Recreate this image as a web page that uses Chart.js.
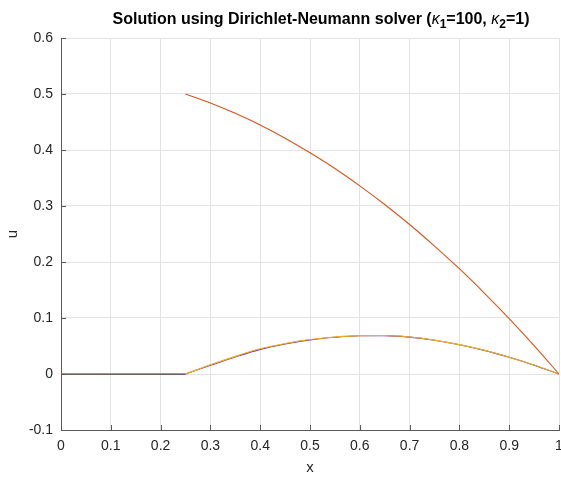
<!DOCTYPE html>
<html>
<head>
<meta charset="utf-8">
<script src="https://cdn.jsdelivr.net/npm/chart.js@4.4.1/dist/chart.umd.min.js"></script>
<style>
  body { margin: 0; background: #fff; }
  canvas { display: block; }
</style>
</head>
<body>
<canvas id="plot" width="561" height="477"></canvas>
<script>
// left sub-domain [0, 0.25]
const xLeft = [0, 0.25];
const blueLeft = [-0.0009, -0.0009];
const orangeLeft = [0.0004, 0.0004];

// right sub-domain [0.25, 1]
const xRight = [0.25, 0.30, 0.35, 0.40, 0.45, 0.50, 0.55, 0.60, 0.65, 0.70, 0.75, 0.80, 0.85, 0.90, 0.95, 1.00];
const orangeRight = [0.500, 0.484, 0.4655, 0.4446, 0.421, 0.395, 0.367, 0.336, 0.3027, 0.267, 0.2285, 0.188, 0.1446, 0.099, 0.0507, 0];
const yellowRight = [0, 0.0165, 0.0315, 0.045, 0.0545, 0.0615, 0.066, 0.0685, 0.0687, 0.066, 0.0605, 0.0525, 0.0425, 0.030, 0.016, 0];
const purpleRight = [0, 0.0155, 0.0305, 0.044, 0.0537, 0.061, 0.0656, 0.0683, 0.0685, 0.0658, 0.0602, 0.0522, 0.0422, 0.0298, 0.0158, 0];

const xTickValues = [0, 0.1, 0.2, 0.3, 0.4, 0.5, 0.6, 0.7, 0.8, 0.9, 1];
const xTickLabels = ['0', '0.1', '0.2', '0.3', '0.4', '0.5', '0.6', '0.7', '0.8', '0.9', '1'];
const yTickValues = [-0.1, 0, 0.1, 0.2, 0.3, 0.4, 0.5, 0.6];
const yTickLabels = ['-0.1', '0', '0.1', '0.2', '0.3', '0.4', '0.5', '0.6'];

const FONT = "'Liberation Sans', Arial, Helvetica, sans-serif";
const TEXT = '#262626';
const AXIS = '#5a5a5a';
const GRID = '#e3e3e3';

function pts(xs, ys) {
  return xs.map((x, i) => ({ x: x, y: ys[i] }));
}

function line(data, color, order, width) {
  return {
    data: data,
    borderColor: color,
    borderWidth: width || 1.1,
    pointRadius: 0,
    fill: false,
    cubicInterpolationMode: 'monotone',
    order: order
  };
}

// MATLAB-like title with subscripts, plus inward tick marks
const extras = {
  id: 'extras',
  afterDraw(chart) {
    const ctx = chart.ctx;
    const area = chart.chartArea;
    ctx.save();

    // inward ticks
    ctx.strokeStyle = AXIS;
    ctx.lineWidth = 1;
    const xs = chart.scales.x, ys = chart.scales.y;
    ctx.beginPath();
    xTickValues.forEach(v => {
      const px = Math.round(xs.getPixelForValue(v)) + 0.5;
      ctx.moveTo(px, area.bottom);
      ctx.lineTo(px, area.bottom - 5);
    });
    yTickValues.forEach(v => {
      const py = Math.round(ys.getPixelForValue(v)) + 0.5;
      ctx.moveTo(area.left, py);
      ctx.lineTo(area.left + 5, py);
    });
    ctx.stroke();

    // title
    const parts = [
      { t: 'Solution using Dirichlet-Neumann solver (', f: 'bold 16px ' + FONT, dy: 0 },
      { t: '\u03BA', f: 'italic 16px ' + FONT, dy: 0 },
      { t: '1', f: 'bold 12px ' + FONT, dy: 4 },
      { t: '=100, ', f: 'bold 16px ' + FONT, dy: 0 },
      { t: '\u03BA', f: 'italic 16px ' + FONT, dy: 0 },
      { t: '2', f: 'bold 12px ' + FONT, dy: 4 },
      { t: '=1)', f: 'bold 16px ' + FONT, dy: 0 }
    ];
    let total = 0;
    parts.forEach(p => { ctx.font = p.f; p.w = ctx.measureText(p.t).width; total += p.w; });
    let x = 321 - total / 2;
    const base = 24;
    ctx.fillStyle = '#000';
    ctx.textBaseline = 'alphabetic';
    ctx.textAlign = 'left';
    parts.forEach(p => {
      ctx.font = p.f;
      ctx.fillText(p.t, x, base + p.dy);
      x += p.w;
    });
    ctx.restore();
  }
};

new Chart(document.getElementById('plot'), {
  type: 'line',
  data: {
    datasets: [
      line(pts(xLeft, blueLeft), '#0072BD', 5, 1),
      line(pts(xLeft, orangeLeft), '#D95319', 4, 1.2),
      line(pts(xRight, purpleRight), '#7E2F8E', 3),
      line(pts(xRight, yellowRight), '#EDB120', 2),
      line(pts(xRight, orangeRight), '#D95319', 1)
    ]
  },
  options: {
    responsive: false,
    animation: false,
    layout: { padding: { top: 38, left: 0, right: 2, bottom: 0 } },
    plugins: {
      legend: { display: false },
      tooltip: { enabled: false },
      title: { display: false }
    },
    scales: {
      x: {
        type: 'linear',
        min: 0,
        max: 1,
        afterBuildTicks: s => { s.ticks = xTickValues.map(v => ({ value: v })); },
        afterFit: s => { s.height = 47; s.paddingLeft = 0; s.paddingRight = 0; },
        ticks: {
          autoSkip: false,
          maxRotation: 0,
          padding: 8,
          color: TEXT,
          font: { family: FONT, size: 14 },
          callback: (v, i) => xTickLabels[i]
        },
        grid: { color: GRID, drawTicks: false },
        border: { display: true, color: AXIS, width: 1 },
        title: {
          display: true,
          text: 'x',
          color: TEXT,
          font: { family: FONT, size: 15 },
          padding: { top: 0, bottom: 0 }
        }
      },
      y: {
        type: 'linear',
        min: -0.1,
        max: 0.6,
        afterBuildTicks: s => { s.ticks = yTickValues.map(v => ({ value: v })); },
        afterFit: s => { s.width = 61; s.paddingTop = 0; s.paddingBottom = 0; },
        ticks: {
          autoSkip: false,
          padding: 8,
          color: TEXT,
          font: { family: FONT, size: 14 },
          callback: (v, i) => yTickLabels[i]
        },
        grid: { color: GRID, drawTicks: false },
        border: { display: true, color: AXIS, width: 1 },
        title: {
          display: true,
          text: 'u',
          color: TEXT,
          font: { family: FONT, size: 15 },
          padding: { top: 4, bottom: 0 }
        }
      }
    }
  },
  plugins: [extras]
});
</script>
</body>
</html>
